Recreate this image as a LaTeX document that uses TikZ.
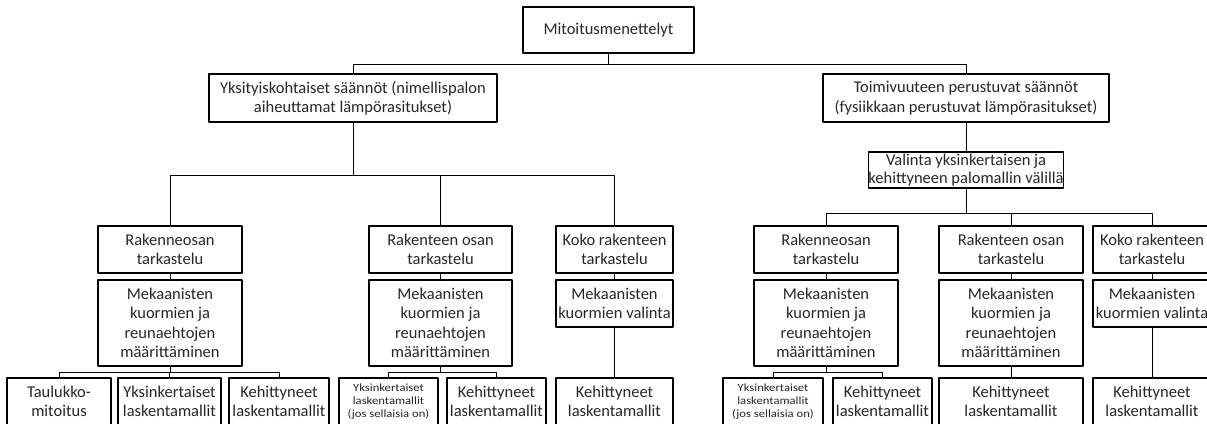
\documentclass[tikz,border=0pt]{standalone}
\usepackage{fontspec}
\setmainfont{Carlito}
\newfontfamily\pienifontti{Carlito}[FakeStretch=1.15]
\usepackage{tikz}
\usetikzlibrary{calc}
\definecolor{tekstiharmaa}{rgb}{0.15,0.15,0.15}
\tikzstyle{every node}=[font=\fontsize{16.5}{19.4}\selectfont,text=tekstiharmaa]
\tikzstyle{laatikko}=[draw=black,line width=1.1pt,align=center,inner sep=0pt]
\tikzstyle{pieni}=[font=\pienifontti\fontsize{11}{13}\selectfont]

\begin{document}
\begin{tikzpicture}[line cap=round,line join=round,x=1pt,y=-1pt,line width=1pt]
\useasboundingbox (0,0) rectangle (1207,423);
\clip (0,0) rectangle (1207,423);
\node[laatikko,minimum width=171pt,minimum height=46pt] (mit) at (608.5,30) {Mitoitusmenettelyt};
\node[laatikko,minimum width=288pt,minimum height=48pt] (yks) at (353,98) {Yksityiskohtaiset säännöt (nimellispalon\\aiheuttamat lämpörasitukset)};
\node[laatikko,minimum width=286pt,minimum height=48pt] (toim) at (966,98) {Toimivuuteen perustuvat säännöt\\(fysiikkaan perustuvat lämpörasitukset)};
\node[laatikko,minimum width=193pt,minimum height=36pt,font=\fontsize{16.5}{18}\selectfont] (val) at (966,170) {Valinta yksinkertaisen ja\\kehittyneen palomallin välillä};
\coordinate (vaaka1) at (0,64);
\coordinate (vaaka2) at (0,175);
\coordinate (vaaka3) at (0,213);
\coordinate (vaaka4) at (0,372);
\node[laatikko,minimum width=144pt,minimum height=47pt] (a3) at (170,249.5) {Rakenneosan\\tarkastelu};
\node[laatikko,minimum width=143pt,minimum height=47pt] (b3) at (440.5,249.5) {Rakenteen osan\\tarkastelu};
\node[laatikko,minimum width=117pt,minimum height=47pt] (c3) at (614.5,249.5) {Koko rakenteen\\tarkastelu};
\node[laatikko,minimum width=144pt,minimum height=47pt] (d3) at (826,249.5) {Rakenneosan\\tarkastelu};
\node[laatikko,minimum width=144pt,minimum height=47pt] (e3) at (1011,249.5) {Rakenteen osan\\tarkastelu};
\node[laatikko,minimum width=118pt,minimum height=47pt] (f3) at (1152,249.5) {Koko rakenteen\\tarkastelu};
\node[laatikko,minimum width=144pt,minimum height=86pt] (a4) at (170,323) {Mekaanisten\\kuormien ja\\reunaehtojen\\määrittäminen};
\node[laatikko,minimum width=143pt,minimum height=86pt] (b4) at (440.5,323) {Mekaanisten\\kuormien ja\\reunaehtojen\\määrittäminen};
\node[laatikko,minimum width=117pt,minimum height=47pt] (c4) at (614.5,303.5) {Mekaanisten\\kuormien valinta};
\node[laatikko,minimum width=144pt,minimum height=86pt] (d4) at (826,323) {Mekaanisten\\kuormien ja\\reunaehtojen\\määrittäminen};
\node[laatikko,minimum width=144pt,minimum height=86pt] (e4) at (1011,323) {Mekaanisten\\kuormien ja\\reunaehtojen\\määrittäminen};
\node[laatikko,minimum width=118pt,minimum height=47pt] (f4) at (1152,303.5) {Mekaanisten\\kuormien valinta};
\node[laatikko,minimum width=104pt,minimum height=47pt] (a5a) at (59,401.5) {Taulukko-\\mitoitus};
\node[laatikko,minimum width=103pt,minimum height=47pt] (a5b) at (169.5,401.5) {Yksinkertaiset\\laskentamallit};
\node[laatikko,minimum width=100pt,minimum height=47pt] (a5c) at (279,401.5) {Kehittyneet\\laskentamallit};
\node[laatikko,pieni,minimum width=99pt,minimum height=47pt] (b5a) at (388.5,401.5) {Yksinkertaiset\\laskentamallit\\(jos sellaisia on)};
\node[laatikko,minimum width=99pt,minimum height=47pt] (b5b) at (496.5,401.5) {Kehittyneet\\laskentamallit};
\node[laatikko,minimum width=117pt,minimum height=47pt] (c5) at (614.5,401.5) {Kehittyneet\\laskentamallit};
\node[laatikko,pieni,minimum width=100pt,minimum height=47pt] (d5a) at (773,401.5) {Yksinkertaiset\\laskentamallit\\(jos sellaisia on)};
\node[laatikko,minimum width=99pt,minimum height=47pt] (d5b) at (882.5,401.5) {Kehittyneet\\laskentamallit};
\node[laatikko,minimum width=144pt,minimum height=47pt] (e5) at (1011,401.5) {Kehittyneet\\laskentamallit};
\node[laatikko,minimum width=118pt,minimum height=47pt] (f5) at (1152,401.5) {Kehittyneet\\laskentamallit};
\foreach \lapsi in {yks,toim}
  \draw (mit.south) |- (vaaka1 -| \lapsi.north) -- (\lapsi.north);
\foreach \lapsi in {a3,b3,c3}
  \draw (yks.south) |- (vaaka2 -| \lapsi.north) -- (\lapsi.north);
\draw (toim) -- (val);
\foreach \lapsi in {d3,e3,f3}
  \draw (val.south) |- (vaaka3 -| \lapsi.north) -- (\lapsi.north);
\foreach \ylempi/\alempi in {a3/a4,b3/b4,c3/c4,d3/d4,e3/e4,f3/f4,c4/c5,e4/e5,f4/f5}
  \draw (\ylempi) -- (\alempi);
\foreach \lapsi in {a5a,a5b,a5c}
  \draw (a4.south) |- (vaaka4 -| \lapsi.north) -- (\lapsi.north);
\foreach \lapsi in {b5a,b5b}
  \draw (b4.south) |- (vaaka4 -| \lapsi.north) -- (\lapsi.north);
\foreach \lapsi in {d5a,d5b}
  \draw (d4.south) |- (vaaka4 -| \lapsi.north) -- (\lapsi.north);
\end{tikzpicture}
\end{document}
